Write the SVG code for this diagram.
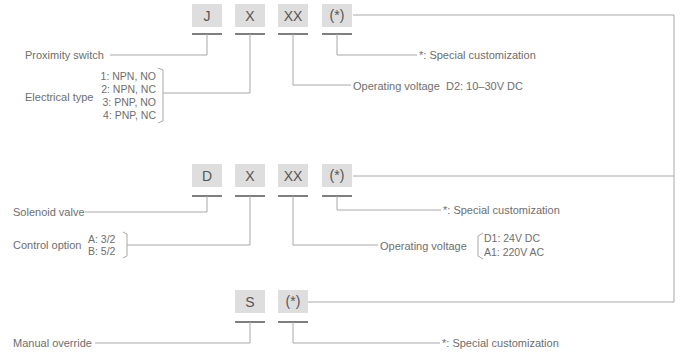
<svg xmlns="http://www.w3.org/2000/svg" width="680" height="352" viewBox="0 0 680 352">
<style>
text{font-family:"Liberation Sans",Arial,sans-serif;fill:#6e6e6e;font-size:11px}
.code{font-size:14px;fill:#555;text-anchor:middle}
.sm{font-size:10.5px}
.box{fill:#dedede}
.ul{stroke:#555;stroke-width:1.5}
.ln{fill:none;stroke:#a8a8a8;stroke-width:1}
</style>
<rect width="680" height="352" fill="#fff"/>
<g id="row1">
<g id="J"><rect class="box" x="192" y="4" width="30" height="23"/><text class="code" x="207" y="21">J</text><line class="ul" x1="192" y1="34" x2="222" y2="34"/></g>
<g id="X1"><rect class="box" x="235" y="4" width="30" height="23"/><text class="code" x="250" y="21">X</text><line class="ul" x1="235" y1="34" x2="265" y2="34"/></g>
<g id="XX1"><rect class="box" x="278" y="4" width="30" height="23"/><text class="code" x="293" y="21">XX</text><line class="ul" x1="278" y1="34" x2="308" y2="34"/></g>
<g id="S1"><rect class="box" x="322" y="4" width="30" height="23"/><text class="code" x="337" y="20">(*)</text><line class="ul" x1="322" y1="34" x2="352" y2="34"/></g>
<g id="lbl1">
<text x="25" y="59">Proximity switch</text>
<text x="25" y="101">Electrical type</text>
<text class="sm" x="156" y="80" text-anchor="end">1: NPN, NO</text>
<text class="sm" x="156" y="93" text-anchor="end">2: NPN, NC</text>
<text class="sm" x="156" y="106" text-anchor="end">3: PNP, NO</text>
<text class="sm" x="156" y="119" text-anchor="end">4: PNP, NC</text>
<text x="353" y="90">Operating voltage&#160; D2: 10–30V DC</text>
<text x="419" y="59">*: Special customization</text>
</g>
</g>
<g id="row2">
<g id="D"><rect class="box" x="192" y="164" width="30" height="23"/><text class="code" x="207" y="181">D</text><line class="ul" x1="192" y1="196" x2="222" y2="196"/></g>
<g id="X2"><rect class="box" x="235" y="164" width="30" height="23"/><text class="code" x="250" y="181">X</text><line class="ul" x1="235" y1="196" x2="265" y2="196"/></g>
<g id="XX2"><rect class="box" x="278" y="164" width="30" height="23"/><text class="code" x="293" y="181">XX</text><line class="ul" x1="278" y1="196" x2="308" y2="196"/></g>
<g id="S2"><rect class="box" x="322" y="164" width="30" height="23"/><text class="code" x="337" y="180">(*)</text><line class="ul" x1="322" y1="196" x2="352" y2="196"/></g>
<g id="lbl2">
<text x="13" y="216">Solenoid valve</text>
<text x="13" y="249">Control option</text>
<text class="sm" x="88" y="243">A: 3/2</text>
<text class="sm" x="88" y="255">B: 5/2</text>
<text x="380" y="250">Operating voltage</text>
<text class="sm" x="484" y="242">D1: 24V DC</text>
<text class="sm" x="484" y="256">A1: 220V AC</text>
<text x="443" y="214">*: Special customization</text>
</g>
</g>
<g id="row3">
<g id="S"><rect class="box" x="235" y="290" width="30" height="23"/><text class="code" x="250" y="307">S</text><line class="ul" x1="235" y1="322" x2="265" y2="322"/></g>
<g id="S3"><rect class="box" x="278" y="290" width="30" height="23"/><text class="code" x="293" y="306">(*)</text><line class="ul" x1="278" y1="322" x2="308" y2="322"/></g>
<g id="lbl3">
<text x="13" y="347">Manual override</text>
<text x="442" y="347">*: Special customization</text>
</g>
</g>
<g id="connectors">
<path class="ln" d="M110 55H207V34"/>
<path class="ln" d="M158 68L163 70V121L158 123"/>
<path class="ln" d="M163 93H250V34"/>
<path class="ln" d="M293 34V85H351"/>
<path class="ln" d="M337 34V55H417"/>
<path class="ln" d="M353 15H674V302H308"/>
<path class="ln" d="M85 212H207V196"/>
<path class="ln" d="M123 232L127 234V256L123 258"/>
<path class="ln" d="M127 245H250V196"/>
<path class="ln" d="M293 196V245H378"/>
<path class="ln" d="M483 233L478 236V256L483 259"/>
<path class="ln" d="M337 196V210H441"/>
<path class="ln" d="M353 176H674"/>
<path class="ln" d="M95 343H250V322"/>
<path class="ln" d="M293 322V343H440"/>
</g>
</svg>
